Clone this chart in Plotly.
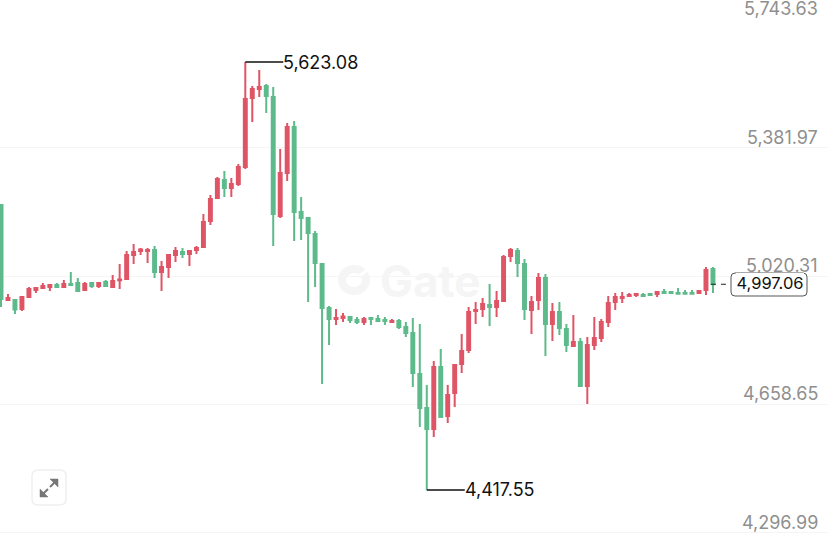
import plotly.graph_objects as go

opens = [5220.3,4952.7,4952.7,4927.3,4961.1,4980.9,4986.5,4989.3,4995,4989.3,4997.8,5000.6,4980.9,5000.6,4992.1,5003.4,4989.3,5008,5011.8,5079.4,
5090.7,5090.7,5093.5,5031.6,5045.6,5079.4,5087.9,5082.3,5093.5,5102,5175.2,5240,5290.7,5268.2,5279.4,5327.3,5521.7,5547,5555.5,5524.5,
5189.3,5310.4,5440,5200.6,5183.6,5138.6,5054.1,4930.2,4899.2,4902,4904.8,4896.4,4890.7,4902,4899.2,4896.4,4890.7,4893.5,4876.6,4859.7,
4744.3,4648.5,4589.3,4764,4625.9,4690.7,4772.4,4811.9,4921.7,4927.3,4938.6,4933,4949.9,5076.6,5090.7,5054.1,4924.5,4952.7,5014.7,4885.1,
4918.9,4871,4823.1,4834.4,4710.5,4825.9,4845.7,4890.7,4947.1,4958.3,4964,4966.8,4966.8,4969.6,4969.6,4975.2,4975.2,4972.4,4972.4,4972.4,4972.4,4980.9,5040]
highs = [5220.3,4969.6,4952.7,4964,4989.3,4989.3,5000.6,4995,5000.6,5009,5031.6,5014.7,5003.4,5003.4,5000.6,5009,5023.1,5054.1,5090.7,5110.4,
5099.2,5099.2,5104.8,5062.5,5079.4,5102,5099.2,5093.5,5104.8,5194.9,5248.4,5299.1,5316,5296.3,5335.8,5623.08,5555.5,5600.5,5561.1,5552.6,
5378,5451.2,5456.9,5242.8,5183.6,5147,5054.1,4935.8,4927.3,4916.1,4904.8,4904.8,4904.8,4902,4910.4,4904.8,4899.2,4899.2,4890.7,4902,
4885.1,4713.3,4780.9,4814.7,4713.3,4769.6,4856.9,4933,4947.1,4958.3,4997.8,4978,5079.4,5099.2,5099.2,5068.2,4964,5028.7,5025.9,4944.2,
4947.1,4885.1,4910.4,4845.7,4848.5,4904.8,4899.2,4964,4972.4,4975.2,4972.4,4972.4,4972.4,4972.4,4975.2,4983.7,4978,4986.5,4980.9,4980.9,4980.9,5045.6,5045.6]
lows = [4933,4949.9,4913.2,4921.7,4958.3,4972.4,4983.7,4978,4989.3,4989.3,4992.1,4975.2,4978,4986.5,4986.5,4989.3,4989.3,4983.7,5009,5054.1,
5079.4,5056.9,5014.7,4978,5014.7,5059.7,5071,5048.5,5082.3,5099.2,5163.9,5237.2,5242.8,5242.8,5273.8,5321.7,5454.1,5524.5,5479.4,5104.8,
5183.6,5287.9,5118.9,5121.7,4947.1,4989.3,4716.1,4825.9,4882.3,4890.7,4887.9,4885.1,4882.3,4882.3,4890.7,4882.3,4887.9,4871,4848.5,4707.6,
4595,4417.55,4566.8,4623.1,4606.2,4651.3,4747.1,4803.4,4885.1,4904.8,4879.4,4904.8,4949.9,5059.7,5017.5,4896.4,4856.9,4924.5,4795,4837.2,
4854.1,4806.2,4820.3,4710.5,4659.8,4811.9,4834.4,4876.6,4924.5,4944.2,4961.1,4961.1,4964,4964,4961.1,4972.4,4972.4,4969.6,4969.6,4969.6,4969.6,4966.8,4972.4]
closes = [4955.5,4958.3,4926,4961.1,4983.7,4986.5,4992.1,4995,4989.3,4997.8,4995,4978,4997.8,4992.1,5000.6,4992.1,5006.2,5010.5,5079.4,5087.9,
5094.9,5093.5,5031.6,5045.6,5079.4,5090.7,5082.3,5090.7,5099.2,5172.4,5237.2,5293.5,5268.2,5279.4,5327.3,5518.8,5547,5552.6,5527.3,5194.9,
5310.4,5440,5200.6,5183.6,5141.4,5056.9,4930.2,4899.2,4902,4906.2,4896.4,4890.7,4899.2,4899.2,4893.5,4893.5,4893.5,4876.6,4859.7,4747.1,
4648.5,4589.3,4764,4623.1,4685.1,4769.6,4809.1,4918.9,4924.5,4941.4,4933,4949.9,5073.8,5093.5,5056.9,4927.3,4947.1,5014.7,4885.1,4918.9,
4873.8,4825.9,4834.4,4710.5,4825.9,4845.7,4890.7,4944.2,4961.1,4961.1,4966.8,4969.6,4964,4966.8,4975.2,4972.4,4972.4,4970,4970,4970,4978,5037.2,4997.06]
candle_index = list(range(len(opens)))
tick_values = [5743.63, 5381.97, 5020.31, 4658.65, 4296.99]
grid_values = [5381.97, 5020.31, 4658.65, 4296.99]
peak_value = 5623.08
trough_value = 4417.55
last_price = 4997.06

FONT = "Inter"
RED = "#DF5566"
GREEN = "#5DBA8B"
W, H = 828, 540
PX_PER_INDEX = 6.98


def px(x):
    return x / W


def py(y):
    return 1 - y / H


fig = go.Figure(go.Candlestick(
    x=candle_index, open=opens, high=highs, low=lows, close=closes,
    increasing=dict(line=dict(color=RED, width=2), fillcolor=RED),
    decreasing=dict(line=dict(color=GREEN, width=2), fillcolor=GREEN),
    whiskerwidth=0, showlegend=False, hoverinfo="skip",
))

annotations = []
shapes = []

# price axis labels sit just above their grid lines
for v in tick_values:
    annotations.append(dict(x=px(820), xref="paper", y=v, yref="y", xanchor="right", yanchor="middle",
                            yshift=10.5, showarrow=False, text=f"{v:,.2f}",
                            font=dict(family=FONT, size=18, color="#8F8F8F")))

# high / low callouts
peak_i = highs.index(peak_value)
trough_i = lows.index(trough_value)
for i, v in ((peak_i, peak_value), (trough_i, trough_value)):
    end = i + 38 / PX_PER_INDEX
    shapes.append(dict(type="line", x0=i, x1=end, y0=v, y1=v, xref="x", yref="y",
                       line=dict(color="#111111", width=1.5)))
    annotations.append(dict(x=end, y=v, xref="x", yref="y", xanchor="left", yanchor="middle",
                            showarrow=False, text=f"{v:,.2f}", xshift=-2,
                            font=dict(family=FONT, size=18, color="#111111")))

# last price marker and tag
shapes.append(dict(type="line", x0=candle_index[-1] - 2 / PX_PER_INDEX, x1=candle_index[-1] + 18 / PX_PER_INDEX,
                   y0=last_price, y1=last_price, xref="x", yref="y",
                   line=dict(color="#222222", width=1.2, dash="5px,5px")))
annotations.append(dict(x=px(769.5), y=last_price, xref="paper", yref="y", xanchor="center", yanchor="middle",
                        showarrow=False, text=f"{last_price:,.2f}", bgcolor="#FFFFFF",
                        width=68, height=20, yshift=1, borderpad=0, borderwidth=0,
                        font=dict(family=FONT, size=16.5, color="#111111")))
r = 4
x0, x1, y0, y1 = 731, 807, 273, 296
box = (f"M{px(x0+r)},{py(y0)} L{px(x1-r)},{py(y0)} Q{px(x1)},{py(y0)} {px(x1)},{py(y0+r)} "
       f"L{px(x1)},{py(y1-r)} Q{px(x1)},{py(y1)} {px(x1-r)},{py(y1)} L{px(x0+r)},{py(y1)} "
       f"Q{px(x0)},{py(y1)} {px(x0)},{py(y1-r)} L{px(x0)},{py(y0+r)} Q{px(x0)},{py(y0)} {px(x0+r)},{py(y0)} Z")
shapes.append(dict(type="path", path=box, xref="paper", yref="paper", fillcolor="#FFFFFF",
                   line=dict(color="#555555", width=1), layer="above"))

# expand button
r = 6
x0, x1, y0, y1 = 32, 66, 470, 505
btn = (f"M{px(x0+r)},{py(y0)} L{px(x1-r)},{py(y0)} Q{px(x1)},{py(y0)} {px(x1)},{py(y0+r)} "
       f"L{px(x1)},{py(y1-r)} Q{px(x1)},{py(y1)} {px(x1-r)},{py(y1)} L{px(x0+r)},{py(y1)} "
       f"Q{px(x0)},{py(y1)} {px(x0)},{py(y1-r)} L{px(x0)},{py(y0+r)} Q{px(x0)},{py(y0)} {px(x0+r)},{py(y0)} Z")
shapes.append(dict(type="path", path=btn, xref="paper", yref="paper", fillcolor="#FFFFFF",
                   line=dict(color="#EFEFEF", width=1.5), layer="above"))
for pts in ([(58, 479), (58, 487), (50, 479)], [(40, 497), (40, 489), (48, 497)]):
    p = " L".join(f"{px(a)},{py(b)}" for a, b in pts)
    shapes.append(dict(type="path", path=f"M{p} Z", xref="paper", yref="paper",
                       fillcolor="#777777", line=dict(color="#777777", width=0.5), layer="above"))
for a, b, c, d in ((55, 482, 50, 487), (43, 494, 48, 489)):
    shapes.append(dict(type="line", x0=px(a), y0=py(b), x1=px(c), y1=py(d), xref="paper", yref="paper",
                       line=dict(color="#777777", width=2), layer="above"))

# watermark
shapes.append(dict(type="circle", x0=px(342), x1=px(366), y0=py(269), y1=py(291), xref="paper", yref="paper",
                   line=dict(color="#F5F5F5", width=8), layer="below"))
shapes.append(dict(type="line", x0=px(356), x1=px(372), y0=py(279), y1=py(266), xref="paper", yref="paper",
                   line=dict(color="#FFFFFF", width=3.5), layer="below"))
wm = dict(x=px(378), y=py(281), xref="paper", yref="paper", xanchor="left", yanchor="middle", showarrow=False,
          text="<b>Gate</b>", font=dict(family=FONT, size=44, color="#F5F5F5"))

fig.update_layout(
    width=W, height=H, autosize=False,
    margin=dict(l=0, r=0, t=0, b=0),
    paper_bgcolor="#FFFFFF", plot_bgcolor="#FFFFFF",
    showlegend=False, hovermode=False, boxgap=0.4,
    xaxis=dict(range=[-1 / PX_PER_INDEX, 827 / PX_PER_INDEX], visible=False, rangeslider=dict(visible=False)),
    yaxis=dict(range=[4276.7, 5797.7], tickvals=grid_values, showticklabels=False, ticks="",
               showgrid=True, gridcolor="#F5F5F5", gridwidth=1, zeroline=False, showline=False),
    shapes=shapes,
    annotations=[wm] + annotations,
    font=dict(family=FONT),
)
fig.write_html("out.html", config={"displayModeBar": False},
               post_script="document.body.style.margin='0';document.body.style.overflow='hidden';")
